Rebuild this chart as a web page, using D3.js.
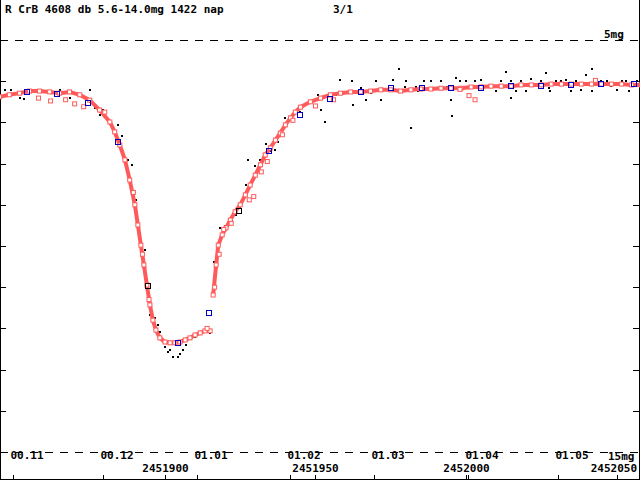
<!doctype html>
<html>
<head>
<script src="https://d3js.org/d3.v7.min.js"></script>
<style>body{margin:0;background:#fff} text{font-family:"DejaVu Sans Mono",monospace;font-weight:bold;font-size:11px}</style>
</head>
<body>
<script>
// data: day offset from JD 2451900, visual magnitude
var jd0 = 2451900;
var redMeans = [[-55,6.38],[-51.7,6.33],[-48.3,6.29],[-45,6.24],[-41.7,6.24],[-38.3,6.26],[-35,6.29],[-31.7,6.26],[-28.3,6.33],[-25,6.46],[-21.7,6.70],[-18.3,6.99],[-16.7,7.23],[-15,7.55],[-13.3,7.91],[-11.7,8.40],[-10,9.00],[-9,9.49],[-8,9.98],[-7,10.46],[-6,10.95],[-5,11.43],[-4,11.80],[-3,12.04],[-1.7,12.23],[0,12.33],[1.7,12.35],[3.3,12.35],[5,12.33],[6.7,12.28],[8.3,12.23],[10,12.16],[11.7,12.11],[13.3,12.06],[15,12.06],
  [16,11.19],[17,10.46],[17.7,9.98],[19,9.73],[20.3,9.56],[21.7,9.37],[23.3,9.17],[25,9.00],[26.7,8.76],[28.3,8.52],[30,8.28],[31.7,8.03],[33.3,7.79],[35,7.62],[36.7,7.43],[38.3,7.26],[40,7.06],[41.7,6.89],[43.3,6.75],[45,6.63],[48.3,6.50],[51.7,6.41],[55,6.33],[58.3,6.29],[61.7,6.26],[65,6.26],[68.3,6.24],[71.7,6.21],[75,6.21],[78.3,6.24],[81.7,6.21],[85,6.19],[88.3,6.19],[91.7,6.17],[95,6.17],[98.3,6.17],[101.7,6.14],[105,6.14],[108.3,6.12],[111.7,6.12],[115,6.12],[118.3,6.09],[121.7,6.09],[125,6.09],[128.3,6.07],[131.7,6.07],[135,6.07],[138.3,6.07],[141.7,6.07],[145,6.07],[148.3,6.07],[151.7,6.07],[155,6.09],[158.3,6.09]];
var redOutliers = [[-42,6.41],[-38,6.48],[-33,6.45],[-30,6.55],[-27,6.62],[-20,6.75],[-10.5,8.7],[-7.5,10.2],[-5.3,11.3],[14,12.0],[16.5,11.0],[18,10.2],[19.5,9.6],[22,9.45],[28,8.88],[29.5,8.8],[32,8.2],[34,7.95],[39,7.3],[42.5,6.95],[50,6.6],[56,6.45],[98,6.2],[101,6.35],[103,6.45],[143,5.98]];
var blackDots = [[-53.3,6.21],[-51,6.21],[-48.3,6.41],[-46.7,6.43],[-35,6.21],[-31.7,6.41],[-25,6.21],[-23.3,6.65],[-21.7,6.82],[-20.7,6.70],[-19,6.94],[-17.7,7.14],[-15.7,7.06],[-14.3,7.33],[-12.3,7.91],[-11,8.03],[-9.7,8.88],[-8.3,9.73],[-6.7,10.10],[-5.7,11.12],[-5,11.67],[-3.3,11.75],[-2.3,11.92],[-1.7,12.09],[-1,12.28],[0,12.45],[1,12.57],[1.7,12.52],[2.7,12.69],[4.3,12.69],[5,12.62],[6,12.52],[7,12.40],[8.3,12.23],[10,12.21],[11.7,12.09],[13.3,12.04],[15,12.11],[16.3,10.39],[18.3,9.56],[20,9.51],[22.3,9.37],[23.7,9.25],[25,9.08],[27,8.52],[27.7,7.91],[29,8.45],[30,8.06],[31.7,7.91],[33.7,7.52],[35,7.69],[36.7,7.67],[37.7,7.48],[40,6.89],[42.3,6.92],[45,6.75],[51,6.33],[51.7,6.70],[53.3,6.99],[56.7,6.33],[58.3,5.97],[60,6.26],[62.3,6.58],[65,6.17],[66.7,6.46],[68.3,6.29],[71.7,6.46],[75.7,5.97],[77.7,5.70],[79.7,6.14],[81.7,7.14],[83.3,6.14],[88.3,6.00],[91.7,6.00],[93.7,6.14],[95,6.46],[95.3,6.84],[96.7,5.92],[100,6.00],[101.7,6.14],[105,5.97],[108.3,6.12],[111.7,6.00],[113.3,5.78],[115,6.00],[115,6.41],[116.7,6.24],[118.3,6.00],[121.7,5.95],[125,6.00],[126.7,5.80],[127.7,6.17],[130,6.00],[131.7,6.00],[133.3,5.97],[136.7,6.00],[138.3,6.21],[140,5.85],[141.7,5.70],[145,6.00],[148.3,6.12],[150,6.21],[151.7,6.00],[153.3,6.00],[156.7,6.00],[157.7,6.33],
  [62,6.0],[70,6.0],[80,6.0],[84,6.24],[86,6.0],[98,6.0],[103,6.0],[110,6.24],[120,6.24],[128,6.24],[135,6.24],[142,6.24],[147,6.0],[154,6.24]];
var blueMeans = [[-45.7,6.26],[-35.7,6.31],[-25.7,6.53],[-15.7,7.48],[4.3,12.35],[14.7,11.63],[34.7,7.69],[44.7,6.82],[54.7,6.43],[65,6.26],[75,6.17],[85.3,6.17],[95,6.17],[105,6.17],[115,6.12],[125,6.12],[135,6.09],[145,6.07],[155.7,6.07]];
var darkMeans = [[-5.7,10.97],[24.7,9.15]];
var monthJD = [2451849.5,2451879.5,2451910.5,2451941.5,2451969.5,2452000.5,2452030.5];
var monthLabels = ["00.11","00.12","01.01","01.02","01.03","01.04","01.05"];
var jdTicks = [2451900,2451950,2452000,2452050];
var magTicks = [6,7,8,9,10,11,12,13,14];

var W = 640, H = 480;
var svg = d3.select("body").append("svg").attr("width", W).attr("height", H);
var x = d3.scaleLinear().domain([2451845.2, 2452057.8]).range([0, W]);
var y = d3.scaleLinear().domain([5, 15]).range([40, 452]);

// frame
svg.append("line").attr("x1",0.5).attr("x2",0.5).attr("y1",0).attr("y2",H).attr("stroke","#000");
svg.append("line").attr("x1",639.5).attr("x2",639.5).attr("y1",0).attr("y2",H).attr("stroke","#000");
svg.append("line").attr("x1",0).attr("x2",W).attr("y1",479.5).attr("y2",479.5).attr("stroke","#000");
[5,15].forEach(function(m){
  svg.append("line").attr("x1",0).attr("x2",W).attr("y1",Math.round(y(m))+0.5).attr("y2",Math.round(y(m))+0.5)
    .attr("stroke","#000").attr("stroke-dasharray","8,7");
});
magTicks.forEach(function(m){
  var yy = Math.round(y(m))+0.5;
  svg.append("line").attr("x1",0).attr("x2",6).attr("y1",yy).attr("y2",yy).attr("stroke","#000");
  svg.append("line").attr("x1",633).attr("x2",640).attr("y1",yy).attr("y2",yy).attr("stroke","#000");
});
monthJD.forEach(function(d,i){
  var xx = Math.round(x(d))+0.5;
  svg.append("line").attr("x1",xx).attr("x2",xx).attr("y1",475).attr("y2",480).attr("stroke","#000");
  svg.append("text").attr("x",xx-3).attr("y",459).text(monthLabels[i]);
});
jdTicks.forEach(function(d,i){
  var xx = Math.round(x(d))+0.5;
  svg.append("line").attr("x1",xx).attr("x2",xx).attr("y1",475).attr("y2",480).attr("stroke","#000");
  var last = i === jdTicks.length-1;
  svg.append("text").attr("x", last ? 637 : xx).attr("y",472)
    .attr("text-anchor", last ? "end" : "middle").text(d);
});
svg.append("text").attr("x",5).attr("y",13).text("R CrB 4608 db 5.6-14.0mg 1422 nap");
svg.append("text").attr("x",333).attr("y",13).text("3/1");
svg.append("text").attr("x",604).attr("y",38).text("5mg");
svg.append("text").attr("x",608).attr("y",460).attr("font-size","9px").text("15mg");

// black individual estimates
svg.selectAll(".bd").data(blackDots).enter().append("rect")
  .attr("x", d => Math.round(x(jd0+d[0]))-1).attr("y", d => Math.round(y(d[1]))-1)
  .attr("width",2).attr("height",2).attr("fill","#000");

// red running mean: band + squares
var line = d3.line().x(d => x(jd0+d[0])).y(d => y(d[1]));
svg.append("path").datum(redMeans.slice(0,35)).attr("d",line).attr("fill","none").attr("stroke","#ff5a5a").attr("stroke-width",4);
svg.append("path").datum(redMeans.slice(35)).attr("d",line).attr("fill","none").attr("stroke","#ff5a5a").attr("stroke-width",4);
svg.selectAll(".rm").data(redMeans.concat(redOutliers)).enter().append("rect")
  .attr("x", d => x(jd0+d[0])-2).attr("y", d => y(d[1])-2)
  .attr("width",4).attr("height",4).attr("fill","#fff").attr("stroke","#ff5a5a").attr("stroke-width",1);

// blue period means
svg.selectAll(".bm").data(blueMeans).enter().append("rect")
  .attr("x", d => Math.round(x(jd0+d[0]))-2.5).attr("y", d => Math.round(y(d[1]))-2.5)
  .attr("width",5).attr("height",5).attr("fill","none").attr("stroke","#0000c0").attr("stroke-width",1);
svg.selectAll(".dm").data(darkMeans).enter().append("rect")
  .attr("x", d => Math.round(x(jd0+d[0]))-2.5).attr("y", d => Math.round(y(d[1]))-2.5)
  .attr("width",5).attr("height",5).attr("fill","none").attr("stroke","#000").attr("stroke-width",1);
</script>
</body>
</html>
